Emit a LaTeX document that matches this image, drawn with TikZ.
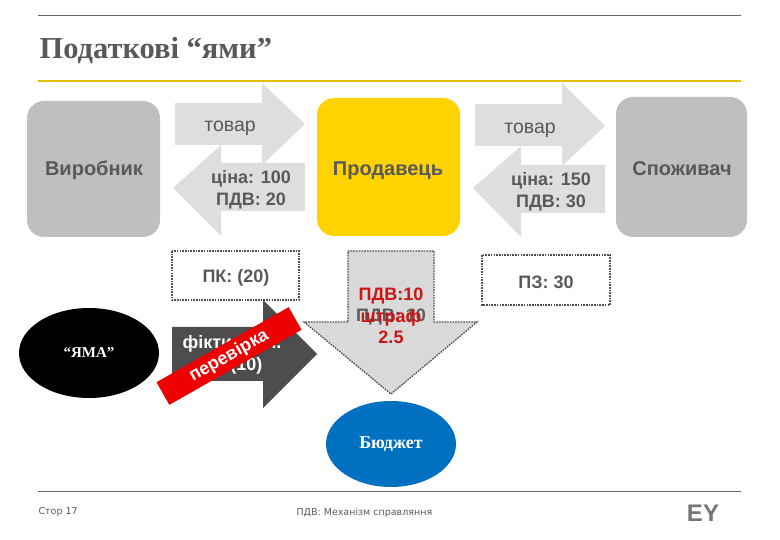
\documentclass[tikz,border=0pt]{standalone}
\usepackage{fontspec}
\usetikzlibrary{shapes.geometric}
\setmainfont{Liberation Sans}
\newfontfamily\serifbody{Liberation Serif}
\newfontfamily\footfont{DejaVu Sans}
\definecolor{txtgray}{HTML}{595959}
\definecolor{boxgray}{HTML}{BFBFBF}
\definecolor{arrowgray}{HTML}{DEDEDE}
\definecolor{downgray}{HTML}{D9D9D9}
\definecolor{darkarrow}{HTML}{4D4D4D}
\definecolor{eyyellow}{HTML}{FFD200}
\definecolor{rulegray}{HTML}{666666}
\definecolor{budgetblue}{HTML}{0070C0}
\definecolor{checkred}{HTML}{EE0000}
\definecolor{vatred}{HTML}{CC1414}
\tikzset{
  x=1pt,y=-1pt,
  rulefine/.style={draw=rulegray,line width=0.9},
  ruleyellow/.style={draw=eyyellow!90!black,line width=2},
  partybox/.style={fill=boxgray,rounded corners=17},
  partylabel/.style={text=txtgray,font=\fontsize{20}{24}\selectfont\bfseries},
  flowarrow/.style={fill=arrowgray},
  dotbox/.style={draw=darkarrow,line width=1.3,dash pattern=on 1.6pt off 1.1pt},
  flowtext/.style={text=txtgray,font=\fontsize{19.5}{23}\selectfont,align=center},
  flowbold/.style={text=txtgray,font=\fontsize{18}{22}\selectfont\bfseries,align=center},
  foottext/.style={text=txtgray,font=\fontsize{9.5}{11}\footfont,anchor=west},
  ovalshape/.style={ellipse,inner sep=0,draw=none},
}
\begin{document}
\begin{tikzpicture}
\useasboundingbox (0,0) rectangle (780,540);
% rules and title
\draw[rulefine] (38,15) -- (741,15);
\draw[ruleyellow] (38,81) -- (741,81);
\draw[rulefine] (38,491) -- (741,491);
\node[anchor=west,text=txtgray,font=\fontsize{30.5}{33}\serifbody\bfseries] (title) at (36,51) {Податкові “ями”};
% parties
\path[partybox] (27,101) rectangle (160,237);
\node[partylabel] (maker) at (94,170) {Виробник};
\path[partybox,fill=eyyellow] (317,98) rectangle (460,236);
\node[partylabel] (seller) at (388,171) {Продавець};
\path[partybox] (616,97) rectangle (747,237);
\node[partylabel] (buyer) at (682,169) {Споживач};
% flow arrows, left pair
\path[flowarrow] (175,103) -- (262,103) -- (262,83) -- (305,124) -- (262,165) -- (262,145) -- (175,145) -- cycle;
\path[flowarrow] (305,163) -- (221,163) -- (221,145) -- (173,188) -- (221,236) -- (221,211) -- (305,211) -- cycle;
\node[flowtext] (goods1) at (230,128) {товар};
\node[flowbold] (price1) at (251,190) {ціна: 100\\ПДВ: 20};
% flow arrows, right pair
\path[flowarrow] (475,104) -- (562,104) -- (562,83) -- (605,126) -- (562,166) -- (562,146) -- (475,146) -- cycle;
\path[flowarrow] (605,165) -- (521,165) -- (521,146) -- (473,188) -- (521,237) -- (521,213) -- (605,213) -- cycle;
\node[flowtext] (goods2) at (530,130) {товар};
\node[flowbold] (price2) at (551,192) {ціна: 150\\ПДВ: 30};
% dotted boxes
\draw[dotbox] (172,251) rectangle (299,300);
\node[flowbold] (pk) at (236,278) {ПК: (20)};
\draw[dotbox] (482,255) rectangle (610,305);
\node[flowbold] (pz) at (546,282) {ПЗ: 30};
% black ellipse
\node[ovalshape,fill=black,minimum width=140,minimum height=90,text=white,font=\fontsize{15}{18}\serifbody\bfseries] (hole) at (89,353) {“ЯМА”};
% dark arrow with fictitious credit
\path[fill=darkarrow] (172,327) -- (263,327) -- (263,300) -- (317,354) -- (263,408) -- (263,381) -- (172,381) -- cycle;
\node[text=white,font=\fontsize{18}{22}\selectfont\bfseries,align=center] (fict) at (232,355) {фіктивний.\\ПК (10)};
% red band
\node[fill=checkred,rotate=29.6,minimum width=152,minimum height=26,inner sep=0,text=white,font=\fontsize{18}{21}\selectfont\bfseries] (check) at (229,356) {перевірка};
% down arrow
\path[fill=downgray] (348,251) -- (434,251) -- (434,322) -- (477,322) -- (391,394) -- (304,322) -- (348,322) -- cycle;
\draw[dotbox] (348,251) -- (434,251) -- (434,322) -- (477,322) -- (391,394) -- (304,322) -- (348,322) -- cycle;
\node[flowbold] (vat0) at (391,317) {ПДВ: 10};
\node[text=vatred,font=\fontsize{18}{21.5}\selectfont\bfseries,align=center] (vat) at (391,316) {ПДВ:10\\штраф\\2.5};
% budget
\node[ovalshape,fill=budgetblue,minimum width=130,minimum height=86,text=white,font=\fontsize{18}{21}\serifbody\bfseries] (budget) at (391,444) {Бюджет};
% footer
\node[foottext] (page) at (35,512) {Стор 17};
\node[foottext] (foot) at (293,513) {ПДВ: Механізм справляння};
\node[anchor=center,text=rulegray!90,font=\fontsize{24}{28}\selectfont\bfseries] (ey) at (703,513) {EY};
\end{tikzpicture}
\end{document}
